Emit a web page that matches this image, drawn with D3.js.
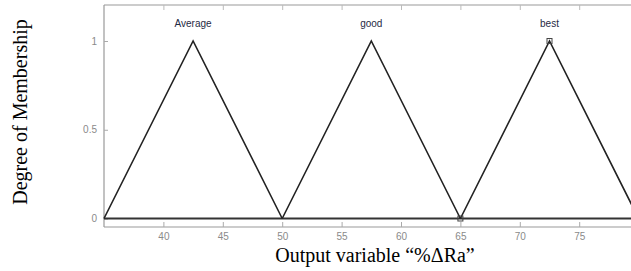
<!DOCTYPE html>
<html lang="en">
<head>
    <meta charset="UTF-8">
    <title>Output membership functions</title>
    <style>
        body { margin: 0; background: #fff; }
        .tick text { font-family: "Liberation Sans", Arial, sans-serif; font-size: 10px; fill: #8a8a8a; }
        .mf-label { font-family: "Liberation Sans", Arial, sans-serif; font-size: 10px; fill: #1f2a44; }
        .title { font-family: "Liberation Serif", "Times New Roman", serif; font-size: 20px; fill: #000; }
    </style>
    <script src="https://d3js.org/d3.v7.min.js"></script>
</head>
<body>
    <svg width="631" height="271"></svg>
    <script>
        // membership functions: triangle [a, b, c]
        const mfNames = ["Average", "good", "best"];
        const mfParams = [[35, 42.5, 50], [50, 57.5, 65], [65, 72.5, 80]];
        const xTicks = [40, 45, 50, 55, 60, 65, 70, 75];
        const yTicks = [0, 0.5, 1];
        const markers = [[72.5, 1], [65, 0]];

        const svg = d3.select("svg");
        const plotLeft = 104, plotTop = 5, plotBottom = 227;

        const x = d3.scaleLinear().domain([35, 80]).range([plotLeft, plotLeft + 45 * 11.88]);
        const y = d3.scaleLinear().domain([0, 1]).range([218.5, 41]);

        // frame lines
        svg.append("line").attr("x1", plotLeft).attr("x2", 640).attr("y1", plotTop).attr("y2", plotTop)
            .attr("stroke", "#bbb").attr("stroke-width", 1.5);
        svg.append("line").attr("x1", plotLeft).attr("x2", plotLeft).attr("y1", plotTop).attr("y2", plotBottom)
            .attr("stroke", "#999").attr("stroke-width", 1.2);
        svg.append("line").attr("x1", plotLeft).attr("x2", 640).attr("y1", plotBottom).attr("y2", plotBottom)
            .attr("stroke", "#999").attr("stroke-width", 1.2);

        // bottom axis
        const xAxis = svg.append("g").attr("transform", `translate(0,${plotBottom})`)
            .call(d3.axisBottom(x).tickValues(xTicks).tickSizeInner(-5).tickSizeOuter(0).tickPadding(6));
        xAxis.select(".domain").remove();
        xAxis.selectAll(".tick line").attr("stroke", "#aaa");

        // top ticks
        const xTop = svg.append("g").attr("transform", `translate(0,${plotTop})`)
            .call(d3.axisTop(x).tickValues(xTicks).tickSizeInner(-5).tickSizeOuter(0).tickFormat(""));
        xTop.select(".domain").remove();
        xTop.selectAll(".tick line").attr("stroke", "#bbb");

        // left axis
        const yAxis = svg.append("g").attr("transform", `translate(${plotLeft},0)`)
            .call(d3.axisLeft(y).tickValues(yTicks).tickSizeInner(-4).tickSizeOuter(0).tickPadding(7)
                .tickFormat(d3.format("")));
        yAxis.select(".domain").remove();
        yAxis.selectAll(".tick line").attr("stroke", "#aaa");

        // zero baseline
        svg.append("line").attr("x1", x(35)).attr("x2", x(80)).attr("y1", y(0)).attr("y2", y(0))
            .attr("stroke", "#333").attr("stroke-width", 2.2);

        const line = d3.line().x(d => x(d[0])).y(d => y(d[1]));
        svg.selectAll("path.mf")
            .data(mfParams)
            .enter()
            .append("path")
            .attr("class", "mf")
            .attr("d", p => line([[p[0], 0], [p[1], 1], [p[2], 0]]))
            .attr("fill", "none")
            .attr("stroke", "#222")
            .attr("stroke-width", 1.6);

        svg.selectAll("text.mf-label")
            .data(mfParams)
            .enter()
            .append("text")
            .attr("class", "mf-label")
            .attr("x", p => x(p[1]))
            .attr("y", 27)
            .attr("text-anchor", "middle")
            .text((p, i) => mfNames[i]);

        svg.selectAll("rect.mk")
            .data(markers)
            .enter()
            .append("rect")
            .attr("class", "mk")
            .attr("x", d => x(d[0]) - 2.5)
            .attr("y", d => y(d[1]) - 2.5)
            .attr("width", 5)
            .attr("height", 5)
            .attr("fill", "none")
            .attr("stroke", "#444")
            .attr("stroke-width", 1);

        svg.append("text").attr("class", "title")
            .attr("x", 375).attr("y", 262)
            .attr("text-anchor", "middle")
            .text("Output variable \u201c%\u0394Ra\u201d");

        svg.append("text").attr("class", "title")
            .attr("transform", "translate(27,112) rotate(-90)")
            .attr("text-anchor", "middle")
            .text("Degree of Membership");
    </script>
</body>
</html>
